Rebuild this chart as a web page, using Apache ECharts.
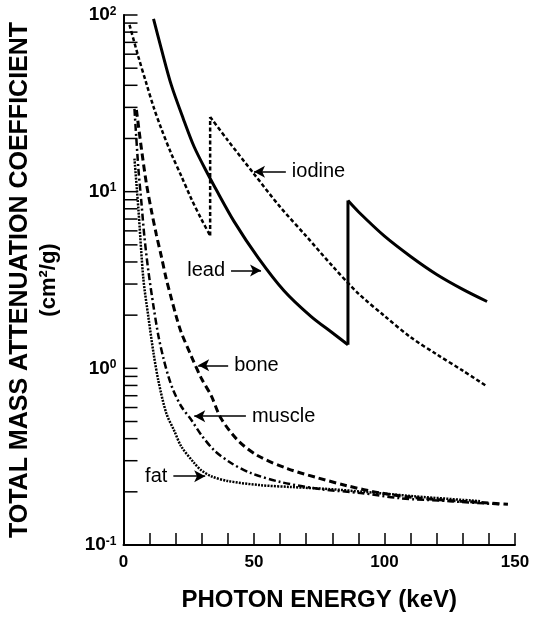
<!DOCTYPE html>
<html><head><meta charset="utf-8">
<script src="https://cdn.jsdelivr.net/npm/echarts@6/dist/echarts.min.js"></script>
<style>html,body{margin:0;padding:0;background:#fff}#c{width:534px;height:619px}</style>
</head><body><div id="c"></div>
<script>
// ---- data (photon energy keV, mass attenuation cm2/g) ----
const leadLowE  = [11.5, 14.5, 18.3, 22.9, 27.1, 32.4, 34.7, 42.4, 51.5, 61.5, 71.8, 80.5, 86];
const leadLowV  = [95, 64.3, 40.2, 25.9, 17.9, 12.5, 10.8, 6.77, 4.25, 2.75, 1.97, 1.57, 1.36];
const leadHighE = [86, 90, 100, 110, 120, 130, 139.3];
const leadHighV = [8.9, 7.7, 5.6, 4.3, 3.4, 2.8, 2.39];
const iodLowE   = [2.3, 5.7, 8.8, 11.5, 14.5, 18.3, 22.1, 26, 29.8, 33.2];
const iodLowV   = [88, 58, 40.8, 30.2, 22.7, 16.4, 12.3, 9.1, 7.0, 5.64];
const iodHighE  = [33.2, 40, 50, 60, 70, 80, 90, 100, 110, 120, 130, 139.3];
const iodHighV  = [26.5, 19.5, 12.6, 8.2, 5.6, 3.8, 2.65, 1.98, 1.5, 1.2, 0.97, 0.79];
const boneE = [4.96, 6.87, 8.78, 10.7, 12.6, 14.5, 16.4, 18.3, 20.2, 22.1, 26, 29.8, 33.6, 37.4, 43.9, 51.5, 63, 74.4, 85.9, 98.5, 113.7, 129, 147.3];
const boneV = [29, 17.5, 11.1, 7.8, 5.7, 4.3, 3.2, 2.5, 1.97, 1.6, 1.17, 0.88, 0.70, 0.52, 0.39, 0.32, 0.27, 0.24, 0.216, 0.197, 0.184, 0.177, 0.17];
const muscleE = [4.2, 5.7, 6.9, 8.0, 9.5, 11.5, 13.4, 15.3, 17.2, 19.1, 22.1, 26.0, 29.8, 34.7, 41.2, 48.9, 60.3, 75.6, 90.8, 106, 125, 144];
const muscleV = [29.4, 13.5, 8.55, 5.57, 3.58, 2.24, 1.52, 1.14, 0.90, 0.75, 0.61, 0.51, 0.42, 0.344, 0.291, 0.255, 0.227, 0.207, 0.197, 0.184, 0.177, 0.170];
const fatE = [4.2, 5.7, 7.6, 9.5, 11.5, 13.4, 16.4, 19.5, 22.1, 27.1, 29.8, 33.6, 40.1, 52.7, 64.1, 79.4, 92, 111, 136.6];
const fatV = [15.4, 8.0, 3.22, 1.97, 1.22, 0.845, 0.557, 0.441, 0.362, 0.291, 0.265, 0.245, 0.230, 0.218, 0.213, 0.207, 0.200, 0.189, 0.177];

// annotation arrows: [label, fromE, fromV, toE, toV]
const notes = {
  iodine: ['iodine', 62.2, 12.97, 50.0, 12.97],
  lead:   ['lead',   41.2, 3.58, 52.7, 3.58],
  bone:   ['bone',   40.1, 1.04, 28.6, 1.04],
  muscle: ['muscle', 46.9, 0.536, 27.1, 0.536],
  fat:    ['fat',    19.1, 0.245, 31.3, 0.245]
};

// axis ticks / labels
const yTickValues = [0.1,0.2,0.3,0.4,0.5,0.6,0.7,0.8,0.9,1,2,3,4,5,6,7,8,9,10,20,30,40,50,60,70,80,90,100];
const yLabelExp = {'0.1':'-1','1':'0','10':'1','100':'2'};
const xLabels = [0, 50, 100, 150];

const FONT = "'Liberation Sans', Arial, Helvetica, sans-serif";
const zip = (a, b) => a.map((x, i) => [x, b[i]]);

function note(key) {
  const n = notes[key];
  return {
    silent: true, animation: false,
    symbol: ['none', 'arrow'], symbolSize: [9, 11],
    lineStyle: {color: '#000', type: 'solid', width: 1.5},
    label: {show: true, position: 'start', formatter: n[0], color: '#000', fontSize: 20, fontFamily: FONT, distance: 6},
    data: [[{coord: [n[1], n[2]]}, {coord: [n[3], n[4]]}]]
  };
}
function line(name, data, style, extra) {
  return Object.assign({
    name, type: 'line', data, symbol: 'none', showSymbol: false, smooth: 0.3,
    animation: false, silent: true,
    lineStyle: Object.assign({color: '#000'}, style)
  }, extra || {});
}

const LEAD = {width: 3, type: 'solid'};
const IOD = {width: 2.5, type: [4, 2.5]};
const BONE = {width: 3, type: [7, 4]};
const MUSC = {width: 2.5, type: [7, 3, 2, 3]};
const FAT = {width: 2.5, type: [2, 1.2]};

const chart = echarts.init(document.getElementById('c'), null, {renderer: 'canvas'});
chart.setOption({
  backgroundColor: '#fff',
  animation: false,
  grid: {left: 122, right: 19, top: 15, bottom: 74, containLabel: false},
  xAxis: {
    type: 'value', min: 0, max: 150, interval: 10,
    axisLine: {lineStyle: {color: '#000', width: 2}},
    axisTick: {inside: true, length: 12, lineStyle: {color: '#000', width: 1.5}},
    splitLine: {show: false},
    axisLabel: {formatter: v => xLabels.includes(v) ? String(v) : '', fontSize: 17, fontWeight: 'bold', color: '#000', fontFamily: FONT, margin: 9},
    name: 'PHOTON ENERGY (keV)', nameLocation: 'middle', nameGap: 43,
    nameTextStyle: {fontSize: 24, fontWeight: 'bold', color: '#000', fontFamily: FONT}
  },
  yAxis: {
    type: 'log', logBase: 10, min: 0.1, max: 100,
    axisLine: {show: true, lineStyle: {color: '#000', width: 2}},
    axisTick: {show: false},
    splitLine: {show: false},
    axisLabel: {
      margin: 7,
      formatter: v => {
        const e = yLabelExp[String(+v.toPrecision(6))];
        return '{b|10}{s|' + e + '}';
      },
      rich: {
        b: {fontSize: 19, fontWeight: 'bold', color: '#000', fontFamily: FONT},
        s: {fontSize: 12, fontWeight: 'bold', color: '#000', fontFamily: FONT, verticalAlign: 'top'}
      }
    },
    name: '{a|TOTAL MASS ATTENUATION COEFFICIENT}\n{b|(cm²/g)}',
    nameLocation: 'middle', nameRotate: 90, nameGap: 61,
    nameTextStyle: {
      rich: {
        a: {fontSize: 25, fontWeight: 'bold', color: '#000', fontFamily: FONT, lineHeight: 28},
        b: {fontSize: 22, fontWeight: 'bold', color: '#000', fontFamily: FONT, lineHeight: 28}
      }
    }
  },
  series: [
    {
      type: 'custom', silent: true, animation: false,
      data: yTickValues.map(v => [0, v]),
      encode: {x: 0, y: 1},
      renderItem: (params, api) => {
        const p = api.coord([0, api.value(1)]);
        return {type: 'line', shape: {x1: p[0], y1: p[1], x2: p[0] + 14, y2: p[1]}, style: {stroke: '#000', lineWidth: 1.5}};
      }
    },
    line('lead', zip(leadLowE, leadLowV), LEAD, {markLine: note('lead')}),
    line('lead edge', [[leadLowE[leadLowE.length - 1], leadLowV[leadLowV.length - 1]], [leadHighE[0], leadHighV[0]]], LEAD, {smooth: false}),
    line('lead high', zip(leadHighE, leadHighV), LEAD),
    line('iodine', zip(iodLowE, iodLowV), IOD, {markLine: note('iodine')}),
    line('iodine edge', [[iodLowE[iodLowE.length - 1], iodLowV[iodLowV.length - 1]], [iodHighE[0], iodHighV[0]]], IOD, {smooth: false}),
    line('iodine high', zip(iodHighE, iodHighV), IOD),
    line('bone', zip(boneE, boneV), BONE, {markLine: note('bone')}),
    line('muscle', zip(muscleE, muscleV), MUSC, {markLine: note('muscle')}),
    line('fat', zip(fatE, fatV), FAT, {markLine: note('fat')})
  ]
});
</script>
</body></html>
